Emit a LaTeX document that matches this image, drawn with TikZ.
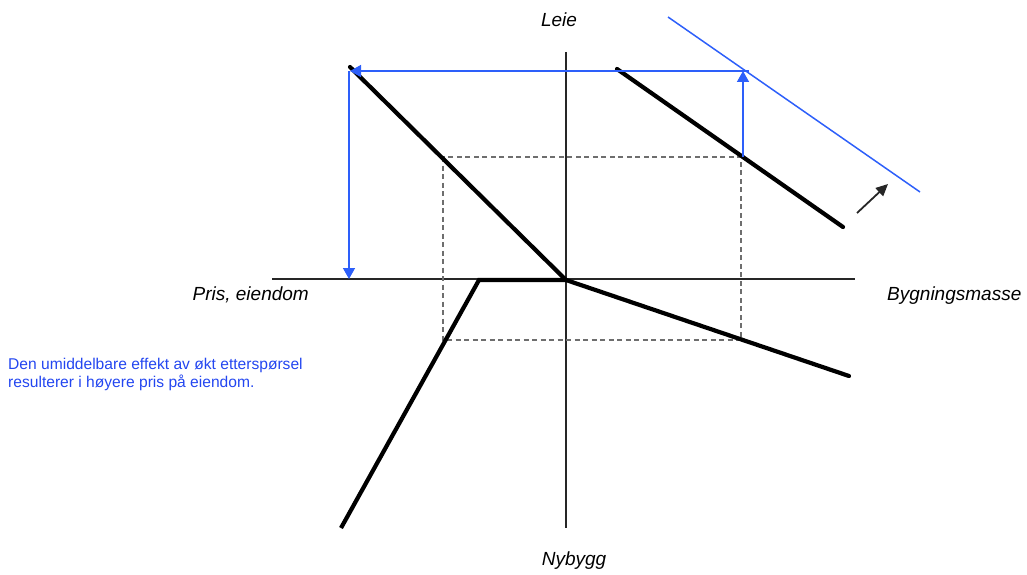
\documentclass[tikz,border=0pt]{standalone}
\usepackage{fontspec}
\setmainfont{Liberation Sans}
\usetikzlibrary{arrows.meta}
\definecolor{bl}{RGB}{45,95,250}
\definecolor{bltext}{RGB}{35,70,240}
\definecolor{dashgray}{RGB}{110,110,110}
\tikzset{
  axis/.style={line width=1.4pt, black!85},
  curve/.style={line width=4.2pt, black, line cap=round, line join=miter},
  bluel/.style={line width=1.5pt, bl},
  blarrow/.style={bluel, -{Triangle[length=11pt,width=12pt]}},
  dashbox/.style={line width=1.3pt, dashgray, dash pattern=on 5pt off 3.5pt},
  axlabel/.style={font=\fontsize{19}{22}\selectfont\itshape, inner sep=0pt},
  note/.style={font=\fontsize{15.6}{17.5}\selectfont, text=bltext, inner sep=0pt, align=left}
}
\begin{document}
\begin{tikzpicture}[x=1pt,y=-1pt]
\useasboundingbox (0,0) rectangle (1027,575);
% axes
\coordinate (xl) at (272,279);
\coordinate (xr) at (855,279);
\coordinate (yt) at (566,52);
\coordinate (yb) at (566,528);
\coordinate (o) at (566,280);
\draw[axis] (xl) -- (xr);
\draw[axis] (yt) -- (yb);
% dashed rectangle
\coordinate (d1) at (443,157);
\coordinate (d2) at (741,340);
\draw[dashbox] (d1) rectangle (d2);
% curves
\coordinate (a1) at (350,67);
\draw[curve] (a1) -- (o);
\coordinate (b1) at (617,69);
\coordinate (b2) at (843,227);
\draw[curve] (b1) -- (b2);
\coordinate (c2) at (849,376);
\draw[curve] (o) -- (c2);
\coordinate (e1) at (479,280);
\coordinate (e2) at (341,528);
\draw[curve, line cap=butt] (o) -- (e1) -- (e2);
% blue shifted line
\coordinate (s1) at (668,17);
\coordinate (s2) at (920,192);
\draw[bluel] (s1) -- (s2);
% blue arrows
\coordinate (p1) at (743,157);
\coordinate (p2) at (743,71);
\coordinate (p3) at (749,71);
\coordinate (p4) at (350,71);
\coordinate (p5) at (349,71);
\coordinate (p6) at (349,279);
\draw[blarrow] (p1) -- (p2);
\draw[blarrow] (p3) -- (p4);
\draw[blarrow] (p5) -- (p6);
% shift arrow
\coordinate (m1) at (857,213);
\coordinate (m2) at (888,184);
\draw[line width=1.8pt, black!85, -{Triangle[length=12pt,width=11pt]}] (m1) -- (m2);
% labels
\node[axlabel, anchor=base] (leie) at (559,27) {Leie};
\node[axlabel, anchor=base] (nybygg) at (574,565) {Nybygg};
\node[axlabel, anchor=base east] (pris) at (309,300) {Pris, eiendom};
\node[axlabel, anchor=base west] (bygg) at (887,300) {Bygningsmasse};
\node[note, anchor=north west] (txt) at (8,358) {Den umiddelbare effekt av økt etterspørsel\\resulterer i høyere pris på eiendom.};
\end{tikzpicture}
\end{document}
